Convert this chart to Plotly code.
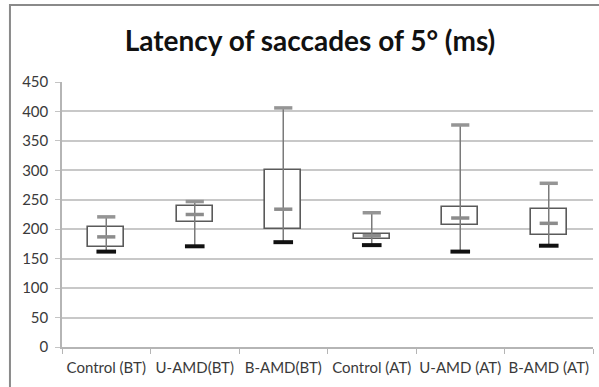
import plotly.graph_objects as go

# Saccade latency summary per group (ms)
groups = ["Control (BT)", "U-AMD(BT)", "B-AMD(BT)", "Control (AT)", "U-AMD (AT)", "B-AMD (AT)"]
lat_min = [162, 171, 178, 173, 162, 172]
lat_q1 = [170, 213, 200, 184, 208, 191]
lat_median = [187, 225, 234, 189, 219, 210]
lat_q3 = [204, 239, 300, 192, 237, 235]
lat_max = [221, 247, 406, 228, 377, 278]
y_ticks = [0, 50, 100, 150, 200, 250, 300, 350, 400, 450]

FONT = "Lato"
fig = go.Figure()

# Interquartile boxes
fig.add_trace(go.Bar(
    x=groups,
    y=[q3 - q1 for q1, q3 in zip(lat_q1, lat_q3)],
    base=lat_q1,
    width=0.41,
    marker=dict(color="white", line=dict(color="#5a5a5a", width=1.6)),
    hoverinfo="skip",
))

# Min-to-max range lines
wx, wy = [], []
for g, lo, hi in zip(groups, lat_min, lat_max):
    wx += [g, g, None]
    wy += [lo, hi, None]
fig.add_trace(go.Scatter(
    x=wx, y=wy, mode="lines",
    line=dict(color="#7a7a7a", width=1.5),
    hoverinfo="skip",
))

# Dash markers for max, median and min
fig.add_trace(go.Scatter(
    x=groups, y=lat_max, mode="markers",
    marker=dict(symbol="line-ew", size=13, line=dict(color="#959595", width=3.5)),
))
fig.add_trace(go.Scatter(
    x=groups, y=lat_median, mode="markers",
    marker=dict(symbol="line-ew", size=13, line=dict(color="#8c8c8c", width=3.5)),
))
fig.add_trace(go.Scatter(
    x=groups, y=lat_min, mode="markers",
    marker=dict(symbol="line-ew", size=14, line=dict(color="#111111", width=4)),
))

fig.update_layout(
    width=599, height=387,
    margin=dict(l=62, r=6, t=82, b=40),
    paper_bgcolor="white", plot_bgcolor="white",
    showlegend=False,
    title=dict(
        text="<b>Latency of saccades of 5° (ms)</b>",
        x=310 / 599, xref="container", xanchor="center",
        y=1 - 41 / 387, yref="container", yanchor="middle",
        font=dict(family=FONT, size=28, color="#111111"),
    ),
    bargap=0,
    xaxis=dict(
        type="category",
        categoryorder="array", categoryarray=groups,
        range=[-0.5, len(groups) - 0.5],
        showline=True, linecolor="#b5b5b5", linewidth=1.5,
        ticks="outside", tickson="boundaries", ticklen=5, tickcolor="#b5b5b5",
        showgrid=False,
        tickangle=0, automargin=False,
        ticklabelstandoff=6,
        tickfont=dict(family=FONT, size=15, color="#3a3a3a"),
    ),
    yaxis=dict(
        range=[0, 450],
        tickvals=y_ticks,
        showline=True, linecolor="#b5b5b5", linewidth=1.5,
        ticks="outside", ticklen=5, tickcolor="#c4c4c4",
        showgrid=True, gridcolor="#c8c8c8", gridwidth=1.5,
        zeroline=False, automargin=False,
        ticklabelstandoff=4,
        tickfont=dict(family=FONT, size=15, color="#3a3a3a"),
    ),
    shapes=[dict(
        type="rect", xref="paper", yref="paper",
        x0=-0.098, x1=1.03, y0=-0.2, y1=1.2906,
        line=dict(color="#8a8a8a", width=2),
        fillcolor="rgba(0,0,0,0)", layer="above",
    )],
)

fig.write_html("out.html")
